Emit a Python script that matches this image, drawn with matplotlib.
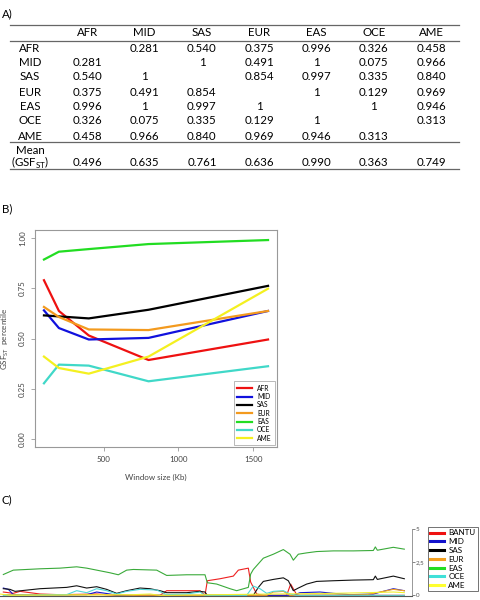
import matplotlib
matplotlib.use("Agg")
import matplotlib.pyplot as plt
import numpy as np

plt.rcParams["font.family"] = ["Lato", "DejaVu Sans"]

# ---- Panel A: pairwise table ----
pops = ["AFR", "MID", "SAS", "EUR", "EAS", "OCE", "AME"]
pair_table = [
    ["", "0.281", "0.540", "0.375", "0.996", "0.326", "0.458"],
    ["0.281", "", "1", "0.491", "1", "0.075", "0.966"],
    ["0.540", "1", "", "0.854", "0.997", "0.335", "0.840"],
    ["0.375", "0.491", "0.854", "", "1", "0.129", "0.969"],
    ["0.996", "1", "0.997", "1", "", "1", "0.946"],
    ["0.326", "0.075", "0.335", "0.129", "1", "", "0.313"],
    ["0.458", "0.966", "0.840", "0.969", "0.946", "0.313", ""],
]
mean_gsf = ["0.496", "0.635", "0.761", "0.636", "0.990", "0.363", "0.749"]

# ---- Panel B: percentile vs window size ----
window_kb = [100, 200, 400, 800, 1600]
pct = {
    "AFR": [0.790, 0.637, 0.515, 0.393, 0.495],
    "MID": [0.640, 0.552, 0.495, 0.503, 0.637],
    "SAS": [0.615, 0.610, 0.600, 0.643, 0.762],
    "EUR": [0.657, 0.607, 0.545, 0.542, 0.637],
    "EAS": [0.893, 0.932, 0.945, 0.970, 0.990],
    "OCE": [0.277, 0.370, 0.365, 0.287, 0.362],
    "AME": [0.410, 0.353, 0.325, 0.410, 0.748],
}
colors_b = {"AFR": "#ee1111", "MID": "#1111dd", "SAS": "#000000", "EUR": "#f39a1e",
            "EAS": "#22dd22", "OCE": "#40d8c8", "AME": "#f4f020"}

# ---- Panel C: ancestry along region (position in arbitrary units) ----
eas_x = [10, 40, 80, 120, 180, 230, 260, 290, 330, 355, 380, 400, 470, 500, 560, 615, 622,
         650, 690, 710, 745, 752, 760, 790, 820, 850, 870, 880, 895, 920, 950, 1000, 1060,
         1120, 1126, 1132, 1180, 1213]
eas_y = [1.57, 1.9, 1.95, 2.0, 2.05, 2.15, 2.05, 1.9, 1.7, 1.55, 1.9, 1.95, 1.9, 1.5, 1.55,
         1.55, 0.95, 0.85, 0.5, 0.35, 0.6, 1.6, 1.95, 2.8, 3.1, 3.45, 3.1, 2.65, 3.1, 3.2,
         3.3, 3.35, 3.35, 3.38, 3.65, 3.4, 3.62, 3.48]
sas_x = [10, 30, 45, 120, 200, 230, 260, 290, 320, 350, 380, 420, 450, 480, 500, 560, 600,
         615, 622, 760, 775, 790, 820, 850, 865, 880, 895, 920, 950, 1000, 1060, 1120, 1126,
         1132, 1180, 1213]
sas_y = [0.5, 0.45, 0.3, 0.5, 0.6, 0.72, 0.55, 0.65, 0.45, 0.15, 0.35, 0.55, 0.5, 0.35, 0.2,
         0.2, 0.3, 0.25, 0.0, 0.0, 0.6, 1.05, 1.2, 1.32, 1.1, 0.35, 0.55, 0.85, 1.05, 1.1,
         1.15, 1.18, 1.45, 1.2, 1.45, 1.25]
bantu_x = [10, 40, 60, 120, 180, 290, 350, 480, 500, 600, 615, 622, 660, 700, 715, 745, 752,
           770, 790, 860, 872, 890, 900, 1213]
bantu_y = [0.25, 0.15, 0.3, 0.1, 0.05, 0.1, 0.0, 0.0, 0.35, 0.35, 0.0, 1.1, 1.25, 1.45, 1.9,
           2.05, 1.0, 0.1, 0.0, 0.0, 0.85, 0.05, 0.0, 0.0]
mid_x = [10, 25, 40, 120, 260, 290, 330, 350, 880, 900, 960, 1000, 1050, 1120, 1180, 1213]
mid_y = [0.55, 0.45, 0.05, 0.02, 0.05, 0.25, 0.1, 0.0, 0.0, 0.2, 0.25, 0.15, 0.05, 0.1, 0.5,
         0.35]
oce_x = [10, 200, 230, 260, 290, 320, 350, 380, 420, 470, 500, 560, 600, 615, 740, 760, 780,
         800, 820, 850, 870, 890, 1213]
oce_y = [0.0, 0.05, 0.35, 0.2, 0.5, 0.35, 0.1, 0.3, 0.45, 0.4, 0.05, 0.1, 0.25, 0.0, 0.0,
         0.7, 0.5, 0.15, 0.3, 0.35, 0.1, 0.0, 0.0]
eur_x = [10, 300, 400, 800, 820, 850, 870, 1100, 1180, 1213]
eur_y = [0.05, 0.05, 0.0, 0.0, 0.25, 0.3, 0.0, 0.05, 0.45, 0.35]
ame_x = [0, 30, 400, 450, 480, 1000, 1100, 1180, 1213]
ame_y = [0.1, 0.0, 0.05, 0.1, 0.0, 0.15, 0.2, 0.25, 0.2]

fig = plt.figure(figsize=(4.8, 6.0), dpi=100)

# overlay axes in pixel coordinates for the table and panel letters
ov = fig.add_axes([0, 0, 1, 1])
ov.set_xlim(0, 480)
ov.set_ylim(600, 0)
ov.axis("off")

tfs = 8.3
ov.text(2, 14, "A)", fontsize=tfs, va="center")
ov.text(2, 209, "B)", fontsize=tfs, va="center")
ov.text(2, 500, "C)", fontsize=tfs, va="center")

col_x = [30 + 57.3 * (i + 1) for i in range(len(pops))]
row_y = [48, 62.5, 77, 92, 106, 121, 136]
for rule_y in (25, 41, 142, 169):
    ov.plot([10, 459], [rule_y, rule_y], color="#666666", lw=0.9)
for j, p in enumerate(pops):
    ov.text(col_x[j], 32, p, fontsize=tfs, ha="center", va="center")
for i, p in enumerate(pops):
    ov.text(30, row_y[i], p, fontsize=tfs, ha="center", va="center")
    for j, v in enumerate(pair_table[i]):
        ov.text(col_x[j], row_y[i], v, fontsize=tfs, ha="center", va="center")
ov.text(30, 151, "Mean", fontsize=tfs, ha="center", va="center")
ov.text(30, 163, r"(GSF$_{\mathregular{ST}}$)", fontsize=tfs, ha="center", va="center")
for j, v in enumerate(mean_gsf):
    ov.text(col_x[j], 163, v, fontsize=tfs, ha="center", va="center")

# ---- Panel B ----
axb = fig.add_axes([35 / 480, 1 - 447 / 600, 242 / 480, 217 / 600])
for name in pops:
    axb.plot(window_kb, pct[name], color=colors_b[name], lw=1.6, label=name)
axb.set_xlim(40, 1660)
axb.set_ylim(-0.04, 1.04)
axb.set_xticks([500, 1000, 1500])
axb.set_yticks([0, 0.25, 0.5, 0.75, 1.0])
axb.set_yticklabels(["0.00", "0.25", "0.50", "0.75", "1.00"], rotation=90, va="center")
axb.tick_params(labelsize=5.8, colors="#444444", length=3, width=0.6, color="#999999")
for s in axb.spines.values():
    s.set_color("#999999")
    s.set_linewidth(0.8)
axb.set_xlabel("Window size (Kb)", fontsize=5.8, color="#444444", labelpad=8)
axb.set_ylabel(r"GSF$_{\mathregular{ST}}$  percentile", fontsize=5.8, color="#444444", labelpad=6)
leg = axb.legend(loc="lower right", fontsize=4.8, frameon=True, fancybox=False,
                 edgecolor="#999999", borderaxespad=0.3, handlelength=2.2,
                 labelspacing=0.2, borderpad=0.5)
leg.get_frame().set_linewidth(0.6)

# ---- Panel C ----
axc = fig.add_axes([0, 1 - 596 / 600, 412 / 480, 67 / 600])
series_c = [
    ("BANTU", bantu_x, bantu_y, "#ee2020"),
    ("MID", mid_x, mid_y, "#1818cc"),
    ("SAS", sas_x, sas_y, "#111111"),
    ("EUR", eur_x, eur_y, "#f5a020"),
    ("EAS", eas_x, eas_y, "#3aaa3a"),
    ("OCE", oce_x, oce_y, "#50d8d8"),
    ("AME", ame_x, ame_y, "#f0f030"),
]
for name, xs, ys, col in series_c:
    axc.plot(np.array(xs) / 3, ys, color=col, lw=0.8)
axc.set_xlim(0, 412)
axc.set_ylim(-0.05, 5)
for sp in ("left", "top"):
    axc.spines[sp].set_visible(False)
axc.spines["bottom"].set_color("#555555")
axc.spines["right"].set_color("#888888")
axc.spines["right"].set_linewidth(0.6)
axc.set_xticks([])
axc.yaxis.tick_right()
axc.set_yticks([0, 2.5, 5])
axc.set_yticklabels(["0", "2,5", "5"])
axc.tick_params(axis="y", labelsize=4.5, length=2, width=0.5, pad=0.5, colors="#555555")

leg_colors = ["#ee1111", "#1111cc", "#000000", "#f5a020", "#22dd22", "#40e0d8", "#ffff30"]
handles = [plt.Line2D([], [], color=c, lw=2.2) for c in leg_colors]
legc = fig.legend(handles, [s[0] for s in series_c], loc="upper right",
                  bbox_to_anchor=(478 / 480, 1 - 527 / 600), fontsize=5.8, frameon=True,
                  fancybox=False, edgecolor="#333333", handlelength=1.8,
                  labelspacing=0.22, borderpad=0.3, handletextpad=0.5, borderaxespad=0)
legc.get_frame().set_linewidth(0.6)

fig.savefig("out.png", dpi=100)
